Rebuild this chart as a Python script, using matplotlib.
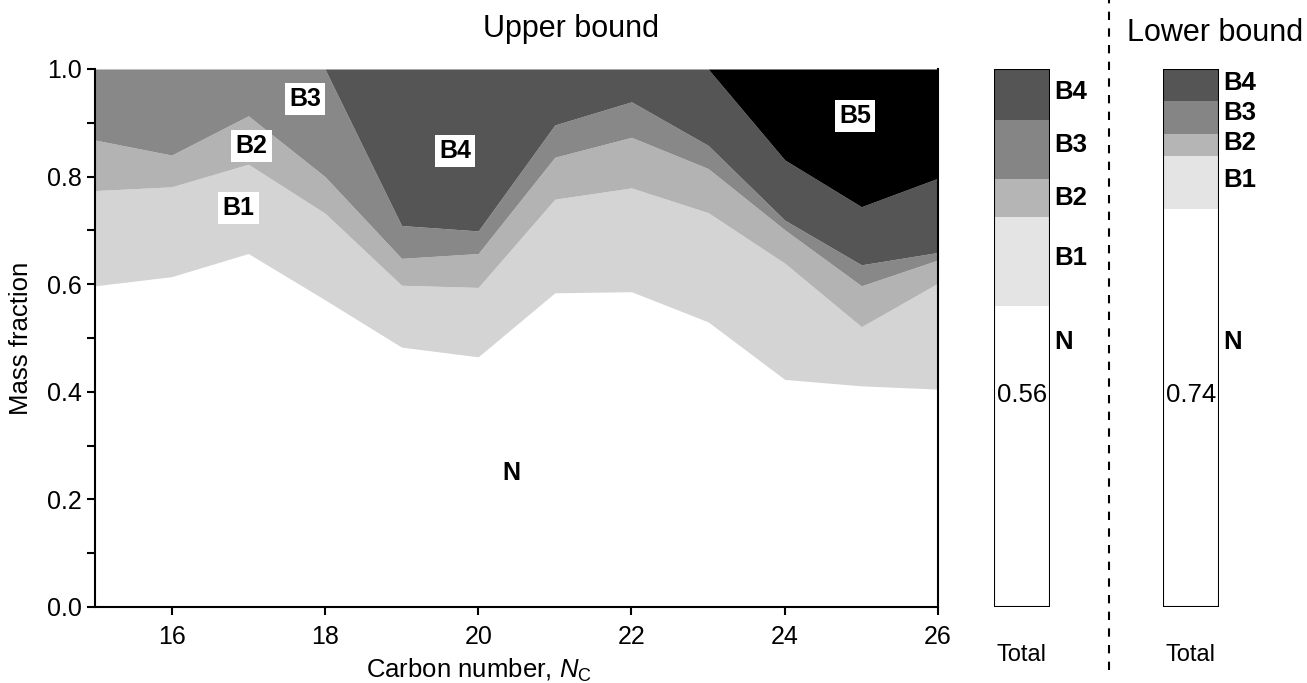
import matplotlib
matplotlib.use("Agg")
from matplotlib import pyplot as plt
from matplotlib.lines import Line2D
from matplotlib.ticker import MultipleLocator, FormatStrFormatter

plt.rcParams['font.family'] = ['Liberation Sans', 'DejaVu Sans']
plt.rcParams['mathtext.fontset'] = 'custom'
plt.rcParams['mathtext.rm'] = 'Liberation Sans'
plt.rcParams['mathtext.it'] = 'Liberation Sans:italic'

# cumulative mass fraction (top edge of each group) vs carbon number
carbon = [15, 16, 17, 18, 19, 20, 21, 22, 23, 24, 25, 26]
top_N = [0.597, 0.614, 0.657, 0.571, 0.483, 0.465, 0.584, 0.586, 0.530, 0.423, 0.411, 0.405]
top_B1 = [0.774, 0.781, 0.823, 0.732, 0.598, 0.594, 0.758, 0.779, 0.733, 0.639, 0.521, 0.602]
top_B2 = [0.868, 0.840, 0.913, 0.800, 0.648, 0.657, 0.836, 0.873, 0.815, 0.701, 0.597, 0.645]
top_B3 = [1.0, 1.0, 1.0, 1.0, 0.709, 0.699, 0.896, 0.939, 0.858, 0.719, 0.636, 0.659]
top_B4 = [1.0, 1.0, 1.0, 1.0, 1.0, 1.0, 1.0, 1.0, 1.0, 0.831, 0.744, 0.797]
top_B5 = [1.0] * 12

groups = ['N', 'B1', 'B2', 'B3', 'B4', 'B5']
area_colors = ['#ffffff', '#d4d4d4', '#b3b3b3', '#888888', '#555555', '#000000']

# totals: cumulative tops of N, B1, B2, B3, B4
upper_total = [0.56, 0.724, 0.795, 0.905, 1.0]
lower_total = [0.74, 0.839, 0.880, 0.941, 1.0]
bar_groups = ['N', 'B1', 'B2', 'B3', 'B4']
bar_colors = ['#ffffff', '#e4e4e4', '#b5b5b5', '#858585', '#555555']

fig = plt.figure(figsize=(13.07, 6.83), dpi=100)
ax = fig.add_axes([0.0727, 0.1113, 0.645, 0.7877])

tops = [top_N, top_B1, top_B2, top_B3, top_B4, top_B5]
base = [0.0] * len(carbon)
for top, c in zip(tops, area_colors):
    ax.fill_between(carbon, base, top, color=c, lw=0)
    base = top

ax.set_xlim(15, 26)
ax.set_ylim(0, 1)
ax.xaxis.set_major_locator(MultipleLocator(2))
ax.yaxis.set_major_locator(MultipleLocator(0.2))
ax.yaxis.set_minor_locator(MultipleLocator(0.1))
ax.yaxis.set_major_formatter(FormatStrFormatter('%.1f'))
ax.tick_params(which='both', direction='out', length=6, width=1.5, labelsize=18)
ax.tick_params(axis='x', pad=7)
ax.spines['top'].set_visible(False)
for s in ['left', 'bottom', 'right']:
    ax.spines[s].set_linewidth(1.5)
ax.set_xlabel('Carbon number, $N_\\mathrm{C}$', fontsize=18.5)
ax.xaxis.set_label_coords(0.456, -0.093)
ax.set_ylabel('Mass fraction', fontsize=18.5)
ax.yaxis.set_label_coords(-0.074, 0.5)

box = dict(facecolor='white', edgecolor='none', pad=3)
area_labels = [('B1', 16.87, 0.742), ('B2', 17.04, 0.857), ('B3', 17.74, 0.944),
               ('B4', 19.70, 0.848), ('B5', 24.92, 0.913)]
for name, xx, yy in area_labels:
    ax.text(xx, yy, name, fontsize=18, fontweight='bold', ha='center', va='center', bbox=box)
ax.text(20.43, 0.249, 'N', fontsize=18, fontweight='bold', ha='center', va='center')

fig.text(0.437, 0.957, 'Upper bound', fontsize=22, ha='center', va='center')
fig.text(0.930, 0.952, 'Lower bound', fontsize=22, ha='center', va='center')


def total_bar(left, totals, label_y, value):
    bx = fig.add_axes([left, 0.1113, 0.0428, 0.7877])
    prev = 0.0
    for top, c in zip(totals, bar_colors):
        bx.bar(0.5, top - prev, bottom=prev, width=1.0, color=c, lw=0)
        prev = top
    bx.bar(0.5, totals[-1], width=1.0, fill=False, edgecolor='black', lw=1.5)
    bx.set_xlim(0, 1)
    bx.set_ylim(0, 1)
    bx.axis('off')
    for name, yy in zip(bar_groups, label_y):
        bx.text(1.07, yy, name, fontsize=18.5, fontweight='bold', ha='left', va='center',
                clip_on=False)
    bx.text(0.5, 0.394, '%.2f' % value, fontsize=18.5, ha='center', va='center')
    bx.text(0.5, -0.089, 'Total', fontsize=17, ha='center', va='center', clip_on=False)


total_bar(0.7605, upper_total, [0.493, 0.649, 0.760, 0.859, 0.957], upper_total[0])
total_bar(0.8898, lower_total, [0.493, 0.794, 0.862, 0.918, 0.974], lower_total[0])

fig.add_artist(Line2D([0.8485, 0.8485], [0.019, 1.0], transform=fig.transFigure,
                      color='black', lw=1.5, ls=(0, (4, 4))))

fig.savefig('out.png', dpi=100)
